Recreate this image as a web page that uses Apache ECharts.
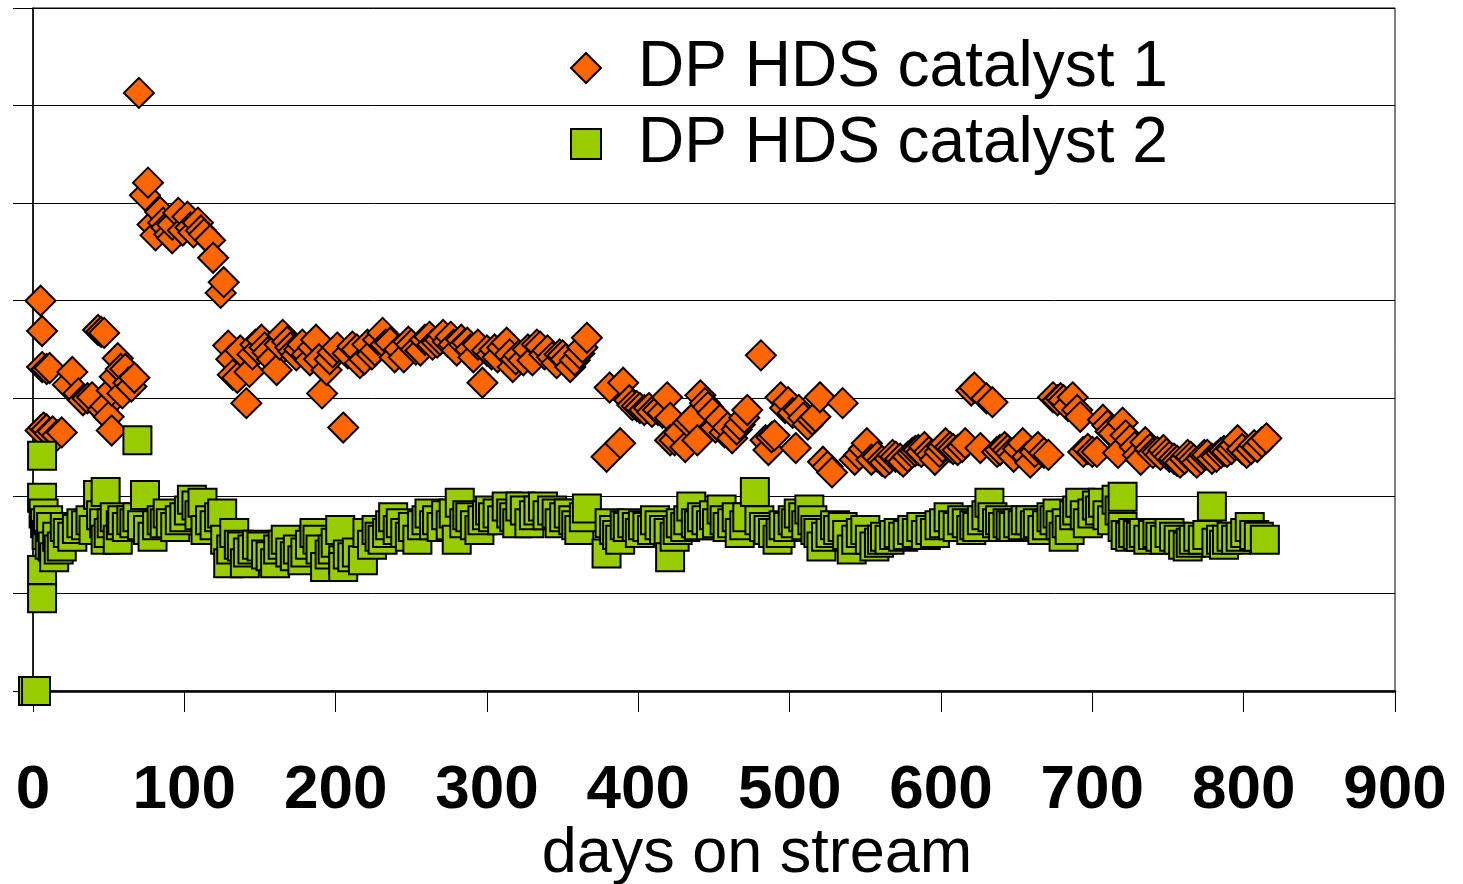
<!DOCTYPE html>
<html>
<head>
<meta charset="utf-8">
<script src="https://cdn.jsdelivr.net/npm/echarts@6/dist/echarts.min.js"></script>
<style>
  html, body { margin: 0; padding: 0; background: #fff; }
  #chart { width: 1463px; height: 884px; }
</style>
</head>
<body>
<div id="chart"></div>
<script>
// ---- data (days on stream, relative value; y axis unlabelled, gridlines at integer steps) ----
const xTicks = [0, 100, 200, 300, 400, 500, 600, 700, 800, 900];
const seriesNames = ['DP HDS catalyst 1', 'DP HDS catalyst 2'];
const xTitle = 'days on stream';

const cat1 = [
  [5,4.00],[6,3.69],[6,3.32],[9,3.30],[11,3.31],[5,2.67],[7,2.70],[9,2.68],[11,2.64],[13,2.66],[16,2.62],[19,2.65],
  [23,3.14],[26,3.27],[30,3.05],[33,2.98],[36,3.00],[39,3.01],[43,3.70],[45,3.68],[47,3.67],[46,2.88],[48,2.92],
  [50,2.81],[52,2.67],[52,3.08],[54,3.22],[56,3.41],[58,3.30],[59,3.05],[61,3.30],[63,3.16],[65,3.12],[67,3.21],
  [70,6.13],[74,5.08],[76,5.21],[79,4.78],[81,4.67],[84,4.91],[86,4.80],[88,4.75],[90,4.68],[92,4.64],[92,4.78],
  [96,4.90],[99,4.72],[102,4.86],[104,4.75],[106,4.70],[109,4.80],[111,4.72],[113,4.68],[117,4.62],[119,4.44],
  [124,4.08],[126,4.19],
  [129,3.54],[131,3.40],[132,3.24],[135,3.21],[137,3.49],[141,2.95],[143,3.27],[145,3.45],[147,3.55],[149,3.50],
  [151,3.60],[153,3.52],[155,3.47],[158,3.40],[161,3.29],[163,3.55],[165,3.65],[168,3.58],[170,3.52],[172,3.48],
  [174,3.44],[176,3.50],[178,3.55],[181,3.45],[183,3.39],[185,3.52],[187,3.60],[189,3.40],[191,3.05],[194,3.29],
  [196,3.40],[198,3.47],[201,3.52],[205,2.70],[208,3.46],[211,3.53],[214,3.50],[216,3.36],[219,3.40],[221,3.55],
  [224,3.45],[226,3.49],[228,3.60],[231,3.67],[233,3.55],[236,3.57],[239,3.42],[242,3.50],[245,3.42],[248,3.58],
  [250,3.55],[253,3.50],[256,3.49],[259,3.60],[262,3.63],[264,3.55],[267,3.57],[269,3.60],[271,3.65],[274,3.58],
  [276,3.63],[278,3.55],[280,3.49],[283,3.60],[285,3.55],[287,3.57],[289,3.50],[291,3.42],[294,3.55],[297,3.16],
  [300,3.49],[303,3.45],[305,3.50],[307,3.42],[310,3.52],[313,3.57],[315,3.45],[317,3.32],[319,3.40],[321,3.44],
  [324,3.39],[327,3.50],[330,3.39],[333,3.55],[335,3.53],[338,3.45],[340,3.49],[343,3.42],[346,3.36],[348,3.45],
  [350,3.44],[352,3.40],[355,3.32],[358,3.39],[361,3.46],[363,3.52],[366,3.62],
  [379,2.40],[381,3.11],[388,2.54],[390,3.16],[394,2.98],[396,2.93],[399,2.92],[401,2.90],[404,2.88],[407,2.90],
  [409,2.86],[413,2.88],[416,2.85],[419,3.01],[421,2.80],[421,2.57],[424,2.57],[427,2.65],[431,2.50],[433,2.75],
  [435,2.78],[439,2.57],[441,3.03],[444,2.95],[446,2.91],[449,2.85],[451,2.70],[454,2.78],[457,2.65],[459,2.70],
  [462,2.59],[465,2.68],[467,2.73],[470,2.80],[472,2.88],[481,3.44],[484,2.57],[486,2.47],[488,2.60],[490,2.62],
  [494,3.01],[497,2.90],[499,2.96],[502,2.85],[504,2.49],[506,2.88],[509,2.80],[512,2.73],[515,2.78],[517,2.81],
  [520,3.01],[522,2.35],[525,2.30],[528,2.24],[535,2.95],
  [543,2.37],[546,2.42],[549,2.48],[551,2.54],[554,2.37],[558,2.40],[561,2.36],[563,2.34],[566,2.38],[568,2.42],
  [570,2.40],[573,2.38],[575,2.35],[578,2.40],[581,2.44],[583,2.46],[585,2.47],[587,2.45],[589,2.50],[592,2.45],
  [594,2.42],[596,2.37],[599,2.45],[601,2.50],[603,2.54],[606,2.50],[608,2.48],[611,2.47],[614,2.50],[616,2.54],
  [620,3.08],[622,3.11],[626,2.49],[630,3.00],[634,2.96],[637,2.45],[639,2.47],[642,2.50],[644,2.47],[646,2.44],
  [648,2.40],[651,2.48],[654,2.54],[657,2.40],[659,2.34],[662,2.45],[664,2.50],[668,2.44],[671,2.42],[674,3.01],
  [677,2.98],[679,3.00],[681,2.98],[684,2.92],[687,3.01],[690,2.88],[692,2.81],[694,2.45],[697,2.48],[700,2.45],
  [703,2.45],[707,2.78],[710,2.72],[712,2.66],[714,2.64],[717,2.44],[720,2.75],[722,2.62],[725,2.57],[728,2.50],
  [730,2.42],[732,2.37],[735,2.55],[738,2.48],[740,2.44],[743,2.45],[745,2.42],[747,2.47],[749,2.43],[751,2.40],
  [754,2.38],[756,2.36],[758,2.34],[761,2.38],[763,2.42],[765,2.40],[767,2.37],[769,2.34],[772,2.38],[774,2.42],
  [776,2.42],[779,2.38],[782,2.40],[785,2.44],[787,2.46],[789,2.45],[792,2.48],[794,2.52],[796,2.57],[799,2.48],
  [802,2.44],[805,2.48],[807,2.52],[809,2.50],[812,2.55],[815,2.59]
];

const cat2 = [
  [0,0.00],[2,0.00],[6,0.95],[6,1.24],[6,2.41],[6,1.98],[7,1.82],[8,1.72],[9,1.60],[10,1.75],[11,1.50],[12,1.68],
  [13,1.48],[14,1.37],[16,1.58],[17,1.45],[19,1.48],[21,1.68],[23,1.62],[26,1.58],[29,1.66],[32,1.72],[35,1.70],
  [38,1.75],[40,1.65],[43,2.01],[45,1.80],[47,1.72],[48,2.04],[48,1.55],[50,1.62],[52,1.72],[54,1.78],[56,1.55],
  [58,1.70],[59,1.75],[62,1.68],[65,1.75],[67,1.72],[69,2.57],[69,1.78],[72,1.70],[74,2.01],[76,1.65],[79,1.58],
  [82,1.70],[85,1.75],[87,1.72],[89,1.82],[91,1.72],[94,1.68],[97,1.75],[100,1.78],[103,1.85],[105,1.96],[108,1.90],
  [110,1.80],[112,1.93],[114,1.65],[117,1.75],[120,1.70],[123,1.78],[125,1.82],[127,1.55],[129,1.31],[131,1.45],
  [133,1.62],[136,1.50],[138,1.48],[140,1.31],[142,1.42],[145,1.45],[148,1.50],[151,1.48],[154,1.40],[157,1.38],
  [160,1.31],[162,1.45],[165,1.50],[167,1.55],[170,1.42],[173,1.38],[175,1.45],[178,1.34],[180,1.42],[183,1.50],
  [186,1.62],[188,1.55],[190,1.45],[193,1.27],[196,1.40],[198,1.45],[200,1.52],[203,1.65],[205,1.34],[205,1.27],
  [208,1.40],[211,1.37],[214,1.42],[218,1.34],[221,1.62],[224,1.50],[227,1.65],[229,1.58],[231,1.55],[234,1.62],
  [236,1.70],[238,1.78],[241,1.65],[243,1.72],[246,1.62],[249,1.58],[251,1.68],[254,1.55],[257,1.70],[260,1.75],
  [262,1.82],[265,1.70],[267,1.75],[270,1.68],[273,1.80],[276,1.70],[278,1.82],[280,1.55],[282,1.93],[285,1.72],
  [287,1.80],[289,1.78],[292,1.70],[295,1.65],[297,1.75],[300,1.80],[302,1.85],[304,1.78],[307,1.82],[310,1.75],
  [313,1.89],[316,1.82],[318,1.78],[320,1.72],[322,1.89],[325,1.85],[328,1.72],[331,1.80],[334,1.85],[337,1.89],
  [340,1.80],[343,1.85],[346,1.82],[348,1.72],[351,1.78],[354,1.82],[357,1.75],[359,1.70],[361,1.65],[364,1.78],
  [366,1.87],[379,1.41],[381,1.72],[384,1.65],[386,1.60],[388,1.55],[391,1.70],[393,1.68],[396,1.72],[399,1.68],
  [401,1.62],[403,1.70],[406,1.68],[409,1.65],[411,1.75],[414,1.70],[417,1.65],[420,1.62],[421,1.37],[424,1.58],
  [426,1.65],[428,1.72],[431,1.68],[433,1.75],[435,1.89],[438,1.72],[440,1.70],[442,1.78],[445,1.75],[448,1.70],
  [450,1.80],[452,1.72],[455,1.86],[457,1.75],[459,1.68],[462,1.72],[465,1.78],[467,1.62],[470,1.70],[472,1.78],
  [477,2.04],[480,1.75],[483,1.68],[486,1.65],[489,1.62],[492,1.55],[494,1.62],[496,1.70],[499,1.68],[502,1.75],
  [504,1.72],[506,1.82],[509,1.78],[511,1.70],[513,1.86],[515,1.75],[517,1.65],[519,1.62],[521,1.48],[524,1.58],
  [527,1.62],[530,1.70],[532,1.65],[535,1.68],[538,1.60],[541,1.45],[544,1.55],[547,1.62],[550,1.65],[553,1.55],
  [556,1.48],[559,1.52],[561,1.55],[563,1.58],[566,1.55],[569,1.60],[572,1.62],[575,1.58],[578,1.60],[581,1.65],
  [584,1.62],[587,1.68],[590,1.60],[593,1.65],[596,1.62],[599,1.70],[602,1.72],[605,1.78],[608,1.70],[611,1.68],
  [614,1.75],[617,1.72],[620,1.65],[622,1.70],[624,1.68],[627,1.75],[630,1.80],[632,1.93],[634,1.78],[637,1.72],
  [639,1.75],[641,1.68],[644,1.72],[646,1.70],[648,1.68],[651,1.72],[654,1.70],[656,1.75],[659,1.75],[662,1.70],
  [664,1.72],[667,1.65],[670,1.70],[673,1.78],[675,1.75],[677,1.82],[679,1.70],[681,1.58],[683,1.72],[685,1.65],
  [688,1.80],[690,1.85],[692,1.93],[695,1.80],[697,1.72],[700,1.82],[703,1.90],[705,1.85],[707,1.93],[710,1.80],
  [713,1.75],[716,1.96],[718,1.85],[720,1.99],[720,1.68],[722,1.60],[725,1.58],[727,1.62],[730,1.60],[732,1.58],
  [734,1.62],[737,1.55],[740,1.60],[743,1.62],[745,1.58],[748,1.55],[751,1.62],[754,1.58],[757,1.55],[760,1.50],
  [763,1.48],[765,1.52],[767,1.55],[770,1.58],[773,1.55],[776,1.60],[779,1.89],[782,1.52],[785,1.55],[787,1.50],
  [789,1.55],[792,1.58],[795,1.55],[798,1.58],[801,1.62],[804,1.68],[807,1.60],[810,1.58],[814,1.55]
];

const FONT = '"Liberation Sans", Arial, Helvetica, sans-serif';

const chart = echarts.init(document.getElementById('chart'), null, { renderer: 'canvas' });
chart.setOption({
  backgroundColor: '#ffffff',
  animation: false,
  grid: {
    left: 33, right: 68, top: 8, bottom: 193,
    show: true, borderColor: '#000', borderWidth: 1, backgroundColor: 'transparent'
  },
  legend: {
    orient: 'vertical',
    left: 570, top: 36, padding: 0,
    itemWidth: 30, itemHeight: 30, itemGap: 12,
    data: seriesNames,
    textStyle: { fontSize: 64, color: '#000', fontFamily: FONT, padding: [0, 0, 0, 32] }
  },
  xAxis: {
    type: 'value', min: 0, max: 900, interval: 100,
    axisLine: { show: true, onZero: false, lineStyle: { color: '#000', width: 2.5 } },
    axisTick: { show: true, length: 21, lineStyle: { color: '#000', width: 1 } },
    axisLabel: {
      margin: 69, fontSize: 62, fontWeight: 'bold', color: '#000', fontFamily: FONT,
      formatter: v => (xTicks.indexOf(v) >= 0 ? String(v) : '')
    },
    splitLine: { show: false }
  },
  yAxis: {
    type: 'value', min: 0, max: 7, interval: 1,
    axisLine: { show: true, onZero: false, lineStyle: { color: '#000', width: 1.5 } },
    axisTick: { show: true, length: 20, lineStyle: { color: '#000', width: 1 } },
    axisLabel: { show: false },
    splitLine: { show: true, lineStyle: { color: '#000', width: 1 } }
  },
  graphic: [{
    type: 'text', x: 757, y: 855,
    style: { text: xTitle, align: 'center', verticalAlign: 'middle',
             font: '63px ' + FONT, fill: '#000' }
  }],
  series: [
    {
      name: seriesNames[0], type: 'scatter', data: cat1, clip: false,
      symbol: 'diamond', symbolSize: 30,
      itemStyle: { color: '#FF6600', borderColor: '#000', borderWidth: 2, opacity: 1 },
      emphasis: { disabled: true }
    },
    {
      name: seriesNames[1], type: 'scatter', data: cat2, clip: false,
      symbol: 'rect', symbolSize: 28,
      itemStyle: { color: '#99CC00', borderColor: '#000', borderWidth: 2, opacity: 1 },
      emphasis: { disabled: true }
    }
  ]
});
</script>
</body>
</html>
